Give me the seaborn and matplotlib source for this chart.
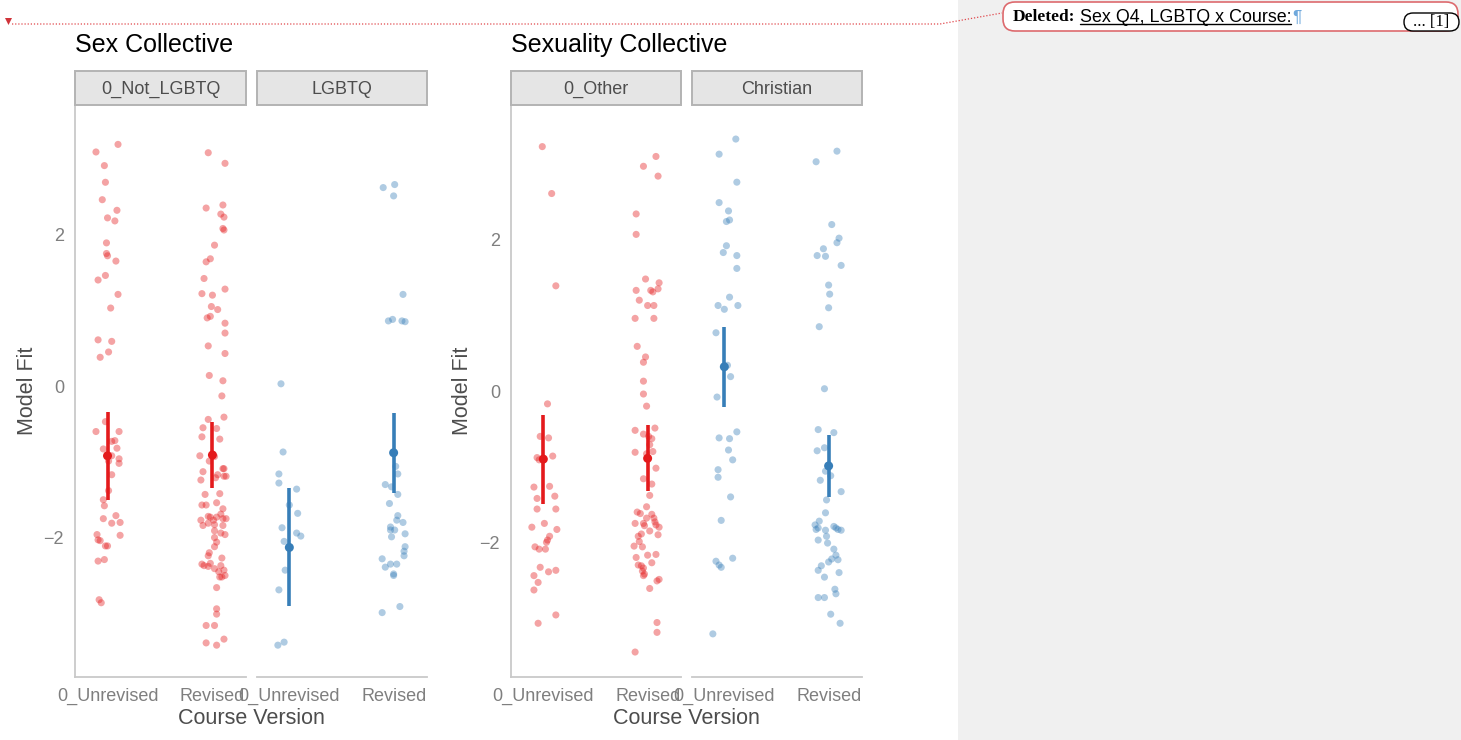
import numpy as np
import pandas as pd
import matplotlib
matplotlib.use('Agg')
import matplotlib.pyplot as plt
import seaborn as sns
from matplotlib.patches import Rectangle, FancyBboxPatch, Polygon
from matplotlib.lines import Line2D
from matplotlib.transforms import IdentityTransform

# ---------------- data ----------------
courses = ['0_Unrevised', 'Revised']
sex_facets = ['0_Not_LGBTQ', 'LGBTQ']
sexu_facets = ['0_Other', 'Christian']

# Sex collective, 0_Not_LGBTQ
sex_notlgbtq_unrev_fit = [3.19, 3.09, 2.91, 2.69, 2.46, 2.32, 2.22, 2.18, 1.89, 1.75, 1.72, 1.65, 1.46, 1.40,
                          1.21, 1.03, 0.61, 0.59, 0.45, 0.38, -0.47, -0.60, -0.60, -0.73, -0.72, -0.83, -0.82,
                          -0.92, -0.96, -1.02, -0.99, -1.17, -1.38, -1.50, -1.58, -1.75, -1.71, -1.81, -1.80,
                          -1.96, -1.97, -2.03, -2.04, -2.11, -2.11, -2.31, -2.29, -2.82, -2.86]
sex_notlgbtq_unrev_dx = [0.10, -0.11, -0.03, -0.02, -0.05, 0.09, 0.00, 0.07, -0.01, -0.01, 0.00, 0.08, -0.02, -0.09,
                         0.10, 0.03, -0.09, 0.04, 0.01, -0.07, -0.02, -0.11, 0.11, 0.04, 0.07, -0.04, 0.09,
                         0.04, 0.11, 0.11, 0.01, 0.04, 0.01, -0.04, -0.03, -0.04, 0.08, 0.04, 0.12,
                         -0.10, 0.12, -0.09, -0.07, -0.02, 0.00, -0.09, -0.03, -0.08, -0.06]
sex_notlgbtq_rev_fit = [3.08, 2.94, 2.35, 2.39, 2.27, 2.23, 2.08, 2.06, 1.86, 1.68, 1.64, 1.42, 1.22, 1.20, 1.28,
                        1.05, 1.01, 0.90, 0.92, 0.83, 0.70, 0.53, 0.43, 0.14, 0.07, -0.13, -0.41, -0.44, -0.55,
                        -0.56, -0.67, -0.70, -0.92, -0.99, -0.93, -1.09, -1.09, -1.21, -1.17, -1.19, -1.19, -1.13,
                        -1.24, -1.42, -1.43, -1.57, -1.57, -1.54, -1.62, -1.69, -1.72, -1.73, -1.73, -1.77, -1.77,
                        -1.75, -1.75, -1.81, -1.84, -1.84, -1.83, -1.91, -1.94, -1.96, -2.00, -2.06, -2.12, -2.20,
                        -2.24, -2.27, -2.35, -2.37, -2.38, -2.34, -2.37, -2.41, -2.45, -2.43, -2.52, -2.50, -2.52,
                        -2.66, -2.94, -3.01, -3.16, -3.16, -3.34, -3.39, -3.42]
sex_notlgbtq_rev_dx = [-0.04, 0.12, -0.06, 0.10, 0.08, 0.11, 0.10, 0.11, 0.02, -0.02, -0.06, -0.08, -0.10, 0.00, 0.12,
                       -0.01, 0.05, -0.05, -0.02, 0.12, 0.12, -0.04, 0.12, -0.03, 0.10, 0.09, 0.11, -0.04, -0.09,
                       0.04, -0.10, 0.07, -0.12, -0.03, 0.02, 0.11, 0.10, 0.03, 0.05, 0.11, 0.13, -0.09,
                       -0.11, 0.07, -0.07, -0.10, -0.06, 0.04, 0.10, 0.08, -0.04, -0.02, 0.04, -0.11, 0.01,
                       0.13, 0.10, -0.04, -0.09, 0.10, 0.02, 0.02, 0.08, 0.12, 0.02, 0.04, 0.02, -0.03,
                       -0.04, 0.09, -0.10, -0.08, -0.04, -0.02, 0.08, 0.02, 0.06, 0.11, 0.09, 0.12, 0.07,
                       0.04, 0.04, 0.04, -0.06, 0.02, 0.11, -0.06, 0.04]
# Sex collective, LGBTQ
sex_lgbtq_unrev_fit = [0.03, -0.87, -1.16, -1.28, -1.36, -1.57, -1.68, -1.87, -1.94, -1.98, -2.05, -2.43, -2.69,
                       -3.38, -3.42]
sex_lgbtq_unrev_dx = [-0.08, -0.06, -0.10, -0.10, 0.07, 0.00, 0.08, -0.07, 0.07, 0.11, -0.05, -0.04, -0.10,
                      -0.05, -0.11]
sex_lgbtq_rev_fit = [2.62, 2.66, 2.51, 1.21, 0.86, 0.88, 0.86, 0.85, -1.06, -1.16, -1.30, -1.33, -1.43, -1.55,
                     -1.71, -1.77, -1.80, -1.86, -1.90, -1.90, -1.99, -1.95, -2.12, -2.18, -2.24, -2.28, -2.39,
                     -2.35, -2.35, -2.48, -2.50, -2.91, -2.99]
sex_lgbtq_rev_dx = [-0.10, 0.01, 0.00, 0.09, -0.05, -0.01, 0.08, 0.11, 0.02, 0.04, -0.08, -0.02, 0.04, -0.04,
                    0.04, 0.03, 0.09, -0.03, 0.01, -0.03, -0.02, 0.11, 0.11, 0.10, 0.10, -0.11, -0.08,
                    -0.03, 0.03, 0.00, 0.00, 0.06, -0.11]

# Sexuality collective, 0_Other
sexu_other_unrev_fit = [3.23, 2.61, 1.39, -0.17, -0.60, -0.62, -0.88, -0.91, -0.86, -1.27, -1.26, -1.42, -1.39,
                        -1.56, -1.56, -1.80, -1.75, -1.83, -1.92, -1.97, -2.00, -2.06, -2.09, -2.09, -2.33,
                        -2.39, -2.37, -2.44, -2.53, -2.63, -2.96, -3.07]
sexu_other_unrev_dx = [-0.01, 0.08, 0.12, 0.04, -0.03, 0.05, -0.06, -0.04, 0.09, -0.09, 0.06, -0.06, 0.11,
                       -0.06, 0.12, -0.11, 0.01, 0.13, 0.06, 0.04, 0.03, -0.08, -0.04, 0.02, -0.03,
                       0.05, 0.12, -0.09, -0.05, -0.09, 0.12, -0.05]
sexu_other_rev_fit = [3.10, 2.97, 2.84, 2.34, 2.07, 1.48, 1.43, 1.33, 1.33, 1.31, 1.35, 1.20, 1.13, 1.13, 0.96,
                      0.96, 0.59, 0.45, 0.38, 0.13, -0.04, -0.20, -0.52, -0.57, -0.49, -0.60, -0.63, -0.71,
                      -0.81, -0.80, -0.83, -1.02, -1.16, -1.23, -1.38, -1.53, -1.60, -1.62, -1.63, -1.68, -1.68,
                      -1.75, -1.75, -1.78, -1.73, -1.77, -1.80, -1.85, -1.89, -1.92, -1.90, -1.99, -2.05, -2.06,
                      -2.17, -2.16, -2.20, -2.27, -2.30, -2.31, -2.34, -2.38, -2.42, -2.44, -2.49, -2.51, -2.61,
                      -3.06, -3.19, -3.45]
sexu_other_rev_dx = [0.08, -0.04, 0.10, -0.11, -0.11, -0.02, 0.11, -0.11, 0.03, 0.05, 0.10, -0.08, 0.00, 0.06, -0.12,
                     0.06, -0.10, -0.02, -0.04, -0.04, -0.04, -0.01, -0.12, -0.04, 0.07, 0.01, 0.04, 0.02,
                     -0.12, 0.05, -0.01, 0.08, -0.04, 0.04, 0.02, -0.01, -0.10, -0.07, 0.04, -0.01, 0.06,
                     -0.12, -0.04, -0.03, 0.07, 0.08, 0.11, 0.02, -0.06, -0.09, 0.10, -0.08, -0.13, -0.05,
                     0.00, 0.08, -0.11, 0.04, -0.09, -0.06, -0.04, -0.05, -0.03, -0.04, 0.11, 0.09, 0.02,
                     0.09, 0.09, -0.12]
# Sexuality collective, Christian
sexu_christ_unrev_fit = [3.33, 3.13, 2.76, 2.49, 2.38, 2.26, 2.24, 1.92, 1.83, 1.79, 1.62, 1.24, 1.13, 1.08, 1.13,
                         0.77, 0.34, 0.19, -0.08, -0.54, -0.62, -0.63, -0.78, -0.91, -1.04, -1.14, -1.40, -1.71,
                         -2.21, -2.25, -2.30, -2.33, -3.21]
sexu_christ_unrev_dx = [0.11, -0.05, 0.12, -0.05, 0.04, 0.05, 0.02, 0.02, -0.01, 0.12, 0.12, 0.05, -0.06, 0.00, 0.13,
                        -0.08, 0.03, 0.06, -0.07, 0.12, -0.05, 0.05, 0.04, 0.08, -0.06, -0.06, 0.06, -0.03,
                        0.08, -0.08, -0.05, -0.03, -0.11]
sexu_christ_rev_fit = [3.17, 3.03, 2.20, 2.02, 1.96, 1.88, 1.79, 1.78, 1.66, 1.40, 1.28, 1.10, 0.85, 0.03, -0.51,
                       -0.55, -0.79, -0.75, -1.06, -1.12, -1.18, -1.33, -1.44, -1.61, -1.72, -1.77, -1.81, -1.83,
                       -1.84, -1.79, -1.81, -1.83, -1.84, -1.92, -1.97, -2.01, -2.09, -2.17, -2.22, -2.23, -2.26,
                       -2.31, -2.37, -2.40, -2.46, -2.62, -2.68, -2.73, -2.73, -2.95, -3.07]
sexu_christ_rev_dx = [0.08, -0.12, 0.03, 0.10, 0.08, -0.05, -0.11, -0.03, 0.12, 0.00, 0.01, 0.00, -0.09, -0.04, -0.10,
                      0.05, -0.11, -0.04, -0.03, 0.02, -0.08, 0.12, -0.02, -0.03, -0.09, -0.13, -0.10, -0.12,
                      -0.03, 0.05, 0.07, 0.09, 0.12, -0.02, -0.10, -0.01, 0.05, 0.07, 0.03, 0.09, 0.00,
                      -0.07, -0.10, 0.10, -0.04, 0.06, 0.07, -0.10, -0.04, 0.02, 0.11]

# model estimates with intervals, order: facet1-unrev, facet1-rev, facet2-unrev, facet2-rev
sex_est_mean = [-0.92, -0.91, -2.13, -0.88]
sex_est_lo = [-1.50, -1.35, -2.90, -1.41]
sex_est_hi = [-0.34, -0.47, -1.35, -0.36]
sexu_est_mean = [-0.90, -0.89, 0.32, -0.99]
sexu_est_lo = [-1.49, -1.32, -0.21, -1.40]
sexu_est_hi = [-0.32, -0.45, 0.85, -0.58]


def make_df(groups, facets):
    frames = []
    for (fit, dx), (facet, course) in zip(groups, [(f, c) for f in facets for c in courses]):
        frames.append(pd.DataFrame({'fit': fit, 'dx': dx, 'facet': facet, 'course': course}))
    df = pd.concat(frames, ignore_index=True)
    df['xpos'] = df['course'].map({c: i for i, c in enumerate(courses)}) + df['dx']
    return df


sex_df = make_df([(sex_notlgbtq_unrev_fit, sex_notlgbtq_unrev_dx), (sex_notlgbtq_rev_fit, sex_notlgbtq_rev_dx),
                  (sex_lgbtq_unrev_fit, sex_lgbtq_unrev_dx), (sex_lgbtq_rev_fit, sex_lgbtq_rev_dx)], sex_facets)
sexu_df = make_df([(sexu_other_unrev_fit, sexu_other_unrev_dx), (sexu_other_rev_fit, sexu_other_rev_dx),
                   (sexu_christ_unrev_fit, sexu_christ_unrev_dx), (sexu_christ_rev_fit, sexu_christ_rev_dx)],
                  sexu_facets)

# ---------------- style ----------------
sns.set_theme(style='white')
plt.rcParams['font.family'] = ['Liberation Sans', 'DejaVu Sans']
plt.rcParams['axes.unicode_minus'] = True

W, H = 1461, 740
fig = plt.figure(figsize=(W / 100, H / 100), dpi=100)
fig.patch.set_facecolor('white')

RED = '#E41A1C'
BLUE = '#377EB8'
SPINE = '#C9C9C9'
TICK = '#7F7F7F'
LAB = '#4D4D4D'


def rect(x0, x1, y0=105, y1=677):
    return [x0 / W, 1 - y1 / H, (x1 - x0) / W, (y1 - y0) / H]


def draw_chart(df, facets, est_mean, est_lo, est_hi, panels_px, ylim, title, ylab_x):
    colors = [RED, BLUE]
    axes = []
    for i, facet in enumerate(facets):
        ax = fig.add_axes(rect(*panels_px[i]))
        sub = df[df['facet'] == facet]
        sns.scatterplot(data=sub, x='xpos', y='fit', color=colors[i], alpha=0.4, s=26,
                        edgecolor='none', linewidth=0, ax=ax, zorder=2)
        # estimate + interval
        for j in range(2):
            k = i * 2 + j
            ax.vlines(j, est_lo[k], est_hi[k], color=colors[i], lw=2.6, zorder=3)
        sns.scatterplot(x=[0, 1], y=est_mean[i * 2:i * 2 + 2], color=colors[i], s=42,
                        edgecolor='none', ax=ax, zorder=4)
        ax.set_xlim(-0.31, 1.32)
        ax.set_ylim(*ylim)
        ax.set_xticks([0, 1])
        ax.set_xticklabels(courses)
        ax.set_yticks([-2, 0, 2])
        ax.set_xlabel('')
        ax.set_ylabel('')
        ax.tick_params(length=0, labelsize=13, colors=TICK, pad=8)
        for s in ['top', 'right']:
            ax.spines[s].set_visible(False)
        ax.spines['bottom'].set_color(SPINE)
        ax.spines['bottom'].set_linewidth(1.3)
        if i == 0:
            ax.spines['left'].set_color(SPINE)
            ax.spines['left'].set_linewidth(1.3)
        else:
            ax.spines['left'].set_visible(False)
            ax.set_yticklabels([])
        # facet strip
        ax.add_patch(Rectangle((0, 1.0), 1, 34 / 572, transform=ax.transAxes, clip_on=False,
                               facecolor='#E5E5E5', edgecolor='#B3B3B3', lw=1.4, zorder=5))
        ax.text(0.5, 1.0 + 11 / 572, facet, transform=ax.transAxes, ha='center', va='baseline',
                fontsize=13, color=LAB, zorder=6, clip_on=False)
        axes.append(ax)
    x0 = panels_px[0][0]
    x1 = panels_px[1][1]
    fig.text(x0 / W, 1 - 45 / H, title, ha='left', va='center', fontsize=18, color='black')
    fig.text((x0 + x1) / 2 / W, 1 - 718 / H, 'Course Version', ha='center', va='center',
             fontsize=15.5, color=LAB)
    fig.text(ylab_x / W, 1 - 391 / H, 'Model Fit', ha='center', va='center', rotation=90,
             fontsize=15.5, color=LAB)
    return axes


# gray side area (comment pane)
fig.add_artist(Rectangle((958, 0), W - 958, H, transform=IdentityTransform(), facecolor='#F0F0F0',
                         edgecolor='none', zorder=0))

draw_chart(sex_df, sex_facets, sex_est_mean, sex_est_lo, sex_est_hi,
           [(75, 246), (257, 427)], (-3.84, 3.71), 'Sex Collective', 28)
draw_chart(sexu_df, sexu_facets, sexu_est_mean, sexu_est_lo, sexu_est_hi,
           [(511, 681), (692, 862)], (-3.78, 3.78), 'Sexuality Collective', 462)

# tracked-change marker and dotted connector
T = IdentityTransform()
fig.add_artist(Polygon([(5, H - 18), (12, H - 18), (8.5, H - 25)], closed=True, transform=T,
                       facecolor='#D0343A', edgecolor='none'))
fig.add_artist(Line2D([12, 940, 1002], [H - 24, H - 24, H - 13], transform=T, color='#E0474C',
                      lw=0.9, linestyle=(0, (1, 1.5))))

# comment balloon
fig.add_artist(FancyBboxPatch((1003, H - 31), 455, 29, boxstyle='round,pad=0,rounding_size=12',
                              transform=T, facecolor='white', edgecolor='#DD6A6E', lw=1.2))
fig.text(1013 / W, 1 - 17 / H, 'Deleted:', family=['Liberation Serif', 'DejaVu Serif'],
         fontweight='bold', fontsize=12.5, ha='left', va='center', color='black')
fig.text(1080 / W, 1 - 17 / H, 'Sex Q4, LGBTQ x Course:', fontsize=12.9, ha='left', va='center',
         color='black')
fig.add_artist(Line2D([1080, 1291], [H - 24, H - 24], transform=T, color='black', lw=1))
fig.text(1292 / W, 1 - 17 / H, '\u00b6', fontsize=12.5, ha='left', va='center', color='#6FA8DC')
fig.add_artist(FancyBboxPatch((1404, H - 31), 55, 18, boxstyle='round,pad=0,rounding_size=9',
                              transform=T, facecolor='white', edgecolor='black', lw=1))
fig.text(1431 / W, 1 - 22 / H, '... [1]', family=['Liberation Serif', 'DejaVu Serif'],
         fontsize=12, ha='center', va='center', color='black')

fig.savefig('out.png', dpi=100, facecolor=fig.get_facecolor())
